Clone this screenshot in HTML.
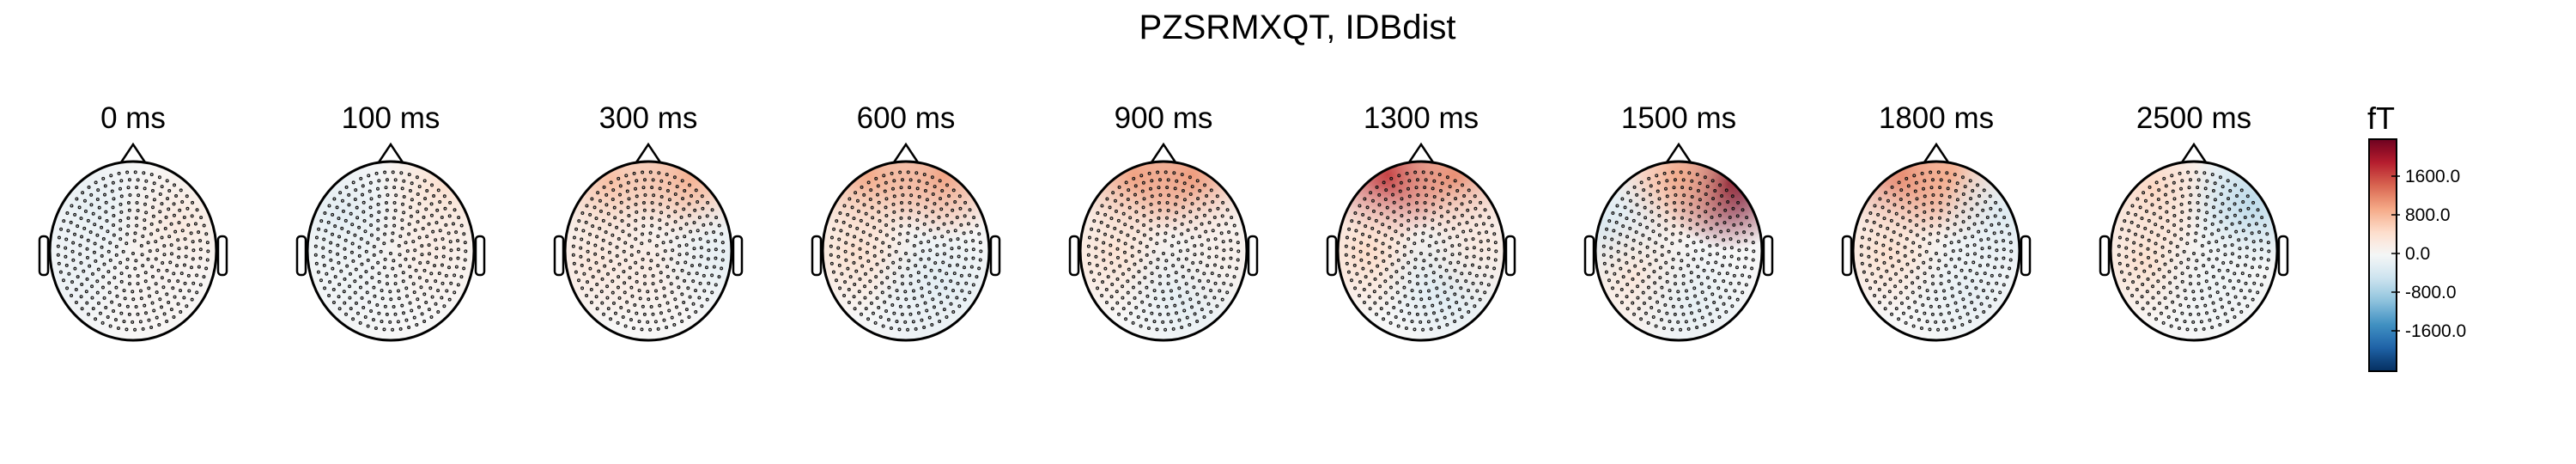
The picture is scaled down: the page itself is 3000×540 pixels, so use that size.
<!DOCTYPE html>
<html><head><meta charset="utf-8"><style>
html,body{margin:0;padding:0;background:#fff}
svg{display:block}
text{font-family:"Liberation Sans",sans-serif;fill:#000}
</style></head><body>
<svg id="fig" width="3000" height="540" viewBox="0 0 3000 540">
<defs id="defs"></defs>
<text x="1511" y="45" font-size="40" text-anchor="middle">PZSRMXQT, IDBdist</text>
<g id="maps"></g>
<g id="cbar"></g>
</svg>
<script>
const times = ["0 ms","100 ms","300 ms","600 ms","900 ms","1300 ms","1500 ms","1800 ms","2500 ms"];
// blobs per map: [x, y, value(fT)] in normalized head coords (-1..1)
const blobs0 = [[-0.5,-0.5,-220],[0.55,-0.3,260],[-0.7,0.3,-150],[0.3,0.4,80]];
const blobs1 = [[-0.6,-0.4,-260],[0.65,-0.7,420],[0.5,0.0,200],[-0.5,0.4,-120]];
const blobs2 = [[-0.45,-0.8,750],[0.5,-0.85,900],[-0.6,0.1,320],[0.0,0.2,200],[0.9,0.1,-220]];
const blobs3 = [[-0.45,-0.85,950],[0.45,-0.85,1000],[-0.6,0.0,420],[0.4,0.4,-300],[0.2,0.9,-150]];
const blobs4 = [[-0.35,-0.85,1000],[0.35,-0.85,1050],[-0.6,0.0,380],[0.3,0.5,-260],[0.7,0.0,150]];
const blobs5 = [[-0.4,-0.85,1700],[0.4,-0.85,1150],[-0.65,0.0,480],[0.3,0.4,-360],[0.7,-0.1,250]];
const blobs6 = [[0.6,-0.75,2300],[0.0,-0.85,900],[-0.85,-0.2,-400],[-0.5,0.3,300],[0.2,0.6,-220]];
const blobs7 = [[-0.4,-0.85,1250],[0.15,-0.85,900],[-0.6,0.0,420],[0.8,-0.4,-320],[0.4,0.5,-220]];
const blobs8 = [[-0.5,-0.7,520],[-0.6,0.1,420],[0.7,-0.55,-650],[0.3,0.4,-120]];
const allBlobs = [blobs0,blobs1,blobs2,blobs3,blobs4,blobs5,blobs6,blobs7,blobs8];
const cbTicks = [1600,800,0,-800,-1600];
const cbTickLabels = ["1600.0","800.0","0.0","-800.0","-1600.0"];
const vmax = 2400;

const NS="http://www.w3.org/2000/svg";
const stops=[[0,[5,48,97]],[0.1,[33,102,172]],[0.2,[67,147,195]],[0.3,[146,197,222]],[0.4,[209,229,240]],[0.5,[247,247,247]],[0.6,[253,219,199]],[0.7,[244,165,130]],[0.8,[214,96,77]],[0.9,[178,24,43]],[1,[103,0,31]]];
function cmap(v){let t=Math.max(0,Math.min(1,(v/vmax+1)/2));for(let i=1;i<stops.length;i++){if(t<=stops[i][0]){const a=stops[i-1],b=stops[i],f=(t-a[0])/(b[0]-a[0]);const c=a[1].map((x,k)=>Math.round(x+(b[1][k]-x)*f));return `rgb(${c})`;}}return "rgb(103,0,31)";}
function mk(tag,attrs,parent){const e=document.createElementNS(NS,tag);for(const k in attrs)e.setAttribute(k,attrs[k]);parent.appendChild(e);return e;}
const defs=document.getElementById('defs'),maps=document.getElementById('maps');
const RX=97, R=104, CY=292, X0=155, DX=300;
const xs=i=>X0+i*DX;
// sensors
const sensors=[];
for(let ring=0;ring<11;ring++){const rr=0.03+ring*0.087;const n=ring===0?1:Math.round(2*Math.PI*rr/0.1);for(let k=0;k<n;k++){const a=k/n*2*Math.PI+ring*0.3;sensors.push([rr*Math.sin(a),rr*Math.cos(a)]);}}
times.forEach((t,i)=>{
 const cx=xs(i);
 const g=mk('g',{},maps);
 
 
 const tl=mk('text',{x:cx,y:149,'font-size':35,'text-anchor':'middle'},g);
 tl.textContent=t;
 
 
 const cp=mk('clipPath',{id:'cp'+i},defs);mk('ellipse',{cx:cx,cy:CY,rx:RX,ry:R},cp);
 const field=mk('g',{'clip-path':`url(#cp${i})`},g);
 
 
 mk('rect',{x:cx-R,y:CY-R,width:2*R,height:2*R,fill:'#f7f7f7'},field);
 allBlobs[i].forEach((b,j)=>{
  const id=`gr${i}_${j}`;const rg=mk('radialGradient',{id:id},defs);
  mk('stop',{offset:'0','stop-color':cmap(b[2]),'stop-opacity':0.95},rg);
  mk('stop',{offset:'0.5','stop-color':cmap(b[2]),'stop-opacity':0.5},rg);
  mk('stop',{offset:'1','stop-color':cmap(b[2]),'stop-opacity':0},rg);
  const c=mk('circle',{cx:cx+b[0]*RX,cy:CY+b[1]*R,r:R*0.75,fill:`url(#${id})`},field);
  
  
 });
 const sg=mk('g',{fill:'none',stroke:'#111','stroke-width':1.2},g);
 
 
 sensors.forEach(s=>mk('circle',{cx:cx+s[0]*RX,cy:CY+s[1]*R*0.98,r:1.4},sg));
 const hd=mk('ellipse',{cx:cx,cy:CY,rx:RX,ry:R,fill:'none',stroke:'#000','stroke-width':3},g);
 
 
 const ns=mk('polyline',{points:`${cx-14},${CY-R+1} ${cx},${CY-R-20} ${cx+14},${CY-R+1}`,fill:'none',stroke:'#000','stroke-width':2.5},g);
 
 
 [-1,1].forEach(sd=>{const e=mk('rect',{x:sd<0?cx-RX-12:cx+RX+2,y:CY-17,width:10,height:45,rx:4,fill:'#fff',stroke:'#000','stroke-width':2.5},g);
  
  });
});
// colorbar
const cb=document.getElementById('cbar');


const cbx=2759,cbw=32,cbTop=162,cbBot=432,cb0=295,pxPer=45/800;
const yv=v=>cb0-v*pxPer;
const vBot=-(cbBot-cb0)/pxPer, vTop=(cb0-cbTop)/pxPer;
const lg=mk('linearGradient',{id:'cbg',x1:0,y1:1,x2:0,y2:0},defs);
for(let k=0;k<=20;k++){const v=vBot+k/20*(vTop-vBot);mk('stop',{offset:k/20,'stop-color':cmap(v)},lg);}
mk('rect',{x:cbx,y:cbTop,width:cbw,height:cbBot-cbTop,fill:'url(#cbg)',stroke:'#000','stroke-width':2},cb);
const ft=mk('text',{x:cbx-2,y:150,'font-size':36},cb);ft.textContent='fT';


cbTicks.forEach((v,k)=>{const y=yv(v);
 mk('line',{x1:cbx+cbw-6,x2:cbx+cbw+4,y1:y,y2:y,stroke:'#000','stroke-width':1.5},cb);
 const tx=mk('text',{x:cbx+cbw+10,y:y+7,'font-size':21},cb);tx.textContent=cbTickLabels[k];
 
 });
</script>
</body></html>
